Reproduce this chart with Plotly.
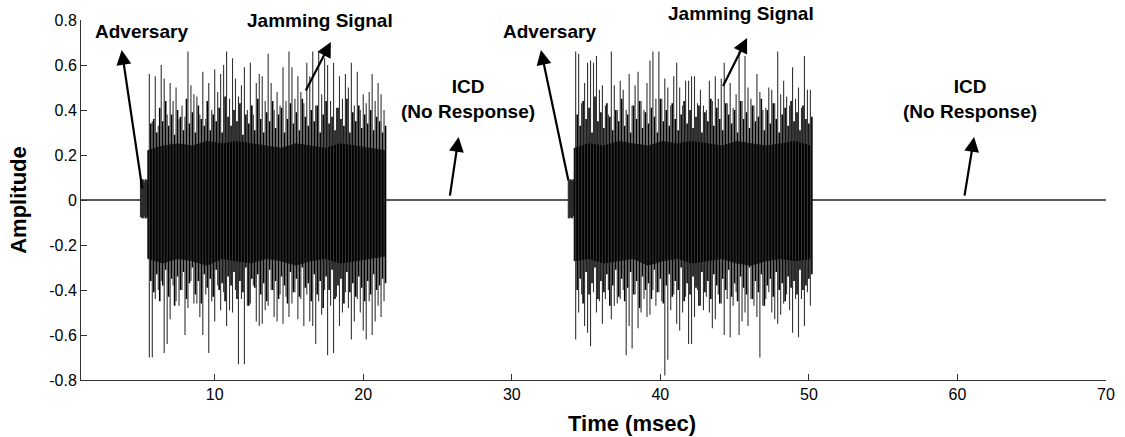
import numpy as np
import plotly.graph_objects as go

# ---------------- data ----------------
# jamming bursts: tall peak values sampled every 0.2 msec
burst1_start, burst2_start, spike_step = 5.6, 34.3, 0.2
burst1_upper = [0.56, 0.35, 0.55, 0.33, 0.60, 0.54, 0.38, 0.52, 0.44, 0.50,
                0.36, 0.42, 0.37, 0.66, 0.51, 0.47, 0.46, 0.38, 0.57, 0.36,
                0.52, 0.40, 0.58, 0.48, 0.56, 0.60, 0.66, 0.45, 0.63, 0.54,
                0.46, 0.51, 0.59, 0.40, 0.61, 0.38, 0.52, 0.56, 0.55, 0.44,
                0.65, 0.52, 0.40, 0.48, 0.42, 0.59, 0.44, 0.66, 0.59, 0.45,
                0.55, 0.48, 0.43, 0.61, 0.55, 0.66, 0.42, 0.66, 0.47, 0.63,
                0.60, 0.44, 0.61, 0.41, 0.55, 0.45, 0.56, 0.50, 0.61, 0.42,
                0.57, 0.40, 0.47, 0.43, 0.48, 0.56, 0.44, 0.52, 0.47, 0.40]
burst1_lower = [-0.70, -0.70, -0.44, -0.40, -0.36, -0.68, -0.64, -0.53, -0.38, -0.45,
                -0.47, -0.40, -0.60, -0.48, -0.36, -0.46, -0.46, -0.52, -0.60, -0.42,
                -0.68, -0.45, -0.54, -0.38, -0.49, -0.41, -0.56, -0.49, -0.50, -0.40,
                -0.73, -0.44, -0.73, -0.47, -0.46, -0.38, -0.54, -0.56, -0.55, -0.49,
                -0.47, -0.40, -0.52, -0.54, -0.42, -0.55, -0.43, -0.52, -0.46, -0.41,
                -0.53, -0.44, -0.56, -0.42, -0.54, -0.56, -0.64, -0.45, -0.51, -0.40,
                -0.69, -0.47, -0.68, -0.43, -0.56, -0.50, -0.41, -0.48, -0.62, -0.54,
                -0.44, -0.50, -0.58, -0.62, -0.45, -0.60, -0.54, -0.47, -0.52, -0.45]
burst2_upper = [0.66, 0.65, 0.43, 0.52, 0.61, 0.62, 0.61, 0.64, 0.49, 0.51,
                0.42, 0.38, 0.66, 0.51, 0.40, 0.53, 0.49, 0.40, 0.56, 0.42,
                0.51, 0.57, 0.44, 0.40, 0.52, 0.62, 0.66, 0.45, 0.66, 0.45,
                0.54, 0.50, 0.42, 0.55, 0.61, 0.50, 0.42, 0.53, 0.53, 0.55,
                0.55, 0.43, 0.49, 0.42, 0.40, 0.53, 0.44, 0.55, 0.45, 0.54,
                0.61, 0.43, 0.52, 0.41, 0.47, 0.66, 0.44, 0.64, 0.50, 0.45,
                0.42, 0.56, 0.48, 0.40, 0.41, 0.50, 0.49, 0.43, 0.66, 0.47,
                0.53, 0.46, 0.42, 0.59, 0.45, 0.50, 0.41, 0.64, 0.49, 0.49]
burst2_lower = [-0.62, -0.50, -0.42, -0.56, -0.59, -0.65, -0.41, -0.50, -0.45, -0.55,
                -0.44, -0.40, -0.53, -0.47, -0.46, -0.44, -0.40, -0.69, -0.56, -0.66,
                -0.42, -0.57, -0.50, -0.44, -0.52, -0.51, -0.40, -0.47, -0.41, -0.45,
                -0.78, -0.71, -0.49, -0.42, -0.55, -0.58, -0.50, -0.43, -0.64, -0.64,
                -0.52, -0.40, -0.47, -0.49, -0.43, -0.50, -0.57, -0.53, -0.42, -0.46,
                -0.60, -0.44, -0.61, -0.47, -0.41, -0.60, -0.54, -0.50, -0.56, -0.44,
                -0.47, -0.52, -0.70, -0.47, -0.44, -0.41, -0.50, -0.53, -0.55, -0.51,
                -0.46, -0.42, -0.49, -0.59, -0.44, -0.61, -0.44, -0.56, -0.41, -0.47]

# medium peaks between the tall ones (offset 0.1 msec)
mid_offset = 0.1
burst1_mid_upper = [0.34, 0.36, 0.30, 0.41, 0.35, 0.44, 0.33, 0.38, 0.29, 0.40,
                    0.37, 0.31, 0.45, 0.34, 0.39, 0.30, 0.42, 0.36, 0.33, 0.44,
                    0.31, 0.38, 0.35, 0.41, 0.30, 0.46, 0.37, 0.33, 0.40, 0.35,
                    0.43, 0.29, 0.38, 0.34, 0.42, 0.31, 0.45, 0.36, 0.30, 0.39,
                    0.35, 0.44, 0.32, 0.38, 0.41, 0.30, 0.36, 0.43, 0.34, 0.39,
                    0.31, 0.45, 0.37, 0.33, 0.40, 0.35, 0.42, 0.30, 0.38, 0.44,
                    0.34, 0.37, 0.31, 0.41, 0.36, 0.33, 0.45, 0.30, 0.39, 0.35,
                    0.42, 0.32, 0.38, 0.34, 0.40, 0.31, 0.37, 0.35, 0.30, 0.33]
burst1_mid_lower = [-0.36, -0.41, -0.33, -0.45, -0.38, -0.31, -0.43, -0.35, -0.47, -0.34,
                    -0.40, -0.32, -0.44, -0.37, -0.30, -0.42, -0.36, -0.46, -0.33, -0.39,
                    -0.35, -0.43, -0.31, -0.40, -0.37, -0.45, -0.34, -0.38, -0.32, -0.44,
                    -0.36, -0.41, -0.30, -0.47, -0.35, -0.39, -0.33, -0.42, -0.37, -0.45,
                    -0.31, -0.40, -0.36, -0.44, -0.34, -0.38, -0.46, -0.32, -0.41, -0.35,
                    -0.43, -0.30, -0.39, -0.37, -0.45, -0.33, -0.42, -0.36, -0.48, -0.34,
                    -0.40, -0.31, -0.44, -0.38, -0.35, -0.46, -0.32, -0.41, -0.37, -0.43,
                    -0.34, -0.39, -0.45, -0.36, -0.42, -0.33, -0.40, -0.38, -0.35, -0.37]
burst2_mid_upper = [0.38, 0.33, 0.44, 0.36, 0.41, 0.30, 0.46, 0.35, 0.39, 0.32,
                    0.43, 0.37, 0.31, 0.40, 0.35, 0.45, 0.33, 0.38, 0.30, 0.42,
                    0.36, 0.44, 0.32, 0.39, 0.34, 0.41, 0.37, 0.30, 0.45, 0.35,
                    0.40, 0.33, 0.43, 0.36, 0.31, 0.38, 0.44, 0.34, 0.40, 0.32,
                    0.37, 0.42, 0.30, 0.39, 0.35, 0.45, 0.33, 0.41, 0.36, 0.31,
                    0.43, 0.38, 0.34, 0.40, 0.30, 0.44, 0.36, 0.39, 0.32, 0.42,
                    0.35, 0.37, 0.45, 0.31, 0.40, 0.34, 0.43, 0.36, 0.30, 0.38,
                    0.41, 0.33, 0.44, 0.35, 0.39, 0.31, 0.42, 0.36, 0.34, 0.37]
burst2_mid_lower = [-0.40, -0.35, -0.46, -0.32, -0.42, -0.37, -0.30, -0.44, -0.36, -0.41,
                    -0.33, -0.47, -0.38, -0.31, -0.43, -0.35, -0.45, -0.39, -0.32, -0.42,
                    -0.36, -0.48, -0.34, -0.40, -0.37, -0.44, -0.31, -0.41, -0.35, -0.46,
                    -0.38, -0.33, -0.43, -0.36, -0.40, -0.30, -0.45, -0.37, -0.42, -0.34,
                    -0.39, -0.47, -0.32, -0.41, -0.36, -0.44, -0.33, -0.38, -0.46, -0.35,
                    -0.40, -0.31, -0.43, -0.37, -0.45, -0.34, -0.39, -0.42, -0.30, -0.44,
                    -0.36, -0.41, -0.33, -0.47, -0.38, -0.35, -0.43, -0.32, -0.40, -0.37,
                    -0.45, -0.34, -0.39, -0.36, -0.42, -0.31, -0.40, -0.38, -0.35, -0.33]

# dense core of each burst (envelope, 17 points per burst)
core1_range = (5.5, 21.45)
core1_upper = [0.22, 0.24, 0.25, 0.24, 0.26, 0.25, 0.26, 0.25, 0.24,
               0.23, 0.25, 0.24, 0.23, 0.25, 0.24, 0.23, 0.22]
core1_lower = [-0.26, -0.28, -0.26, -0.27, -0.29, -0.26, -0.27, -0.28, -0.26,
               -0.27, -0.29, -0.27, -0.26, -0.28, -0.27, -0.26, -0.25]
core2_range = (34.2, 50.1)
core2_upper = [0.23, 0.25, 0.24, 0.26, 0.25, 0.24, 0.26, 0.25, 0.26,
               0.25, 0.24, 0.26, 0.25, 0.24, 0.25, 0.26, 0.24]
core2_lower = [-0.27, -0.26, -0.28, -0.27, -0.26, -0.29, -0.27, -0.26, -0.28,
               -0.27, -0.26, -0.28, -0.29, -0.27, -0.26, -0.27, -0.26]

# adversary segments (short, low-level), sampled every 0.1 msec
adv1_start, adv2_start, adv_step = 5.0, 33.8, 0.1
adv1_upper = [0.085, 0.09, 0.08, 0.09, 0.085, 0.09]
adv1_lower = [-0.07, -0.075, -0.08, -0.07, -0.08, -0.075]
adv2_upper = [0.085, 0.09, 0.085, 0.09, 0.08]
adv2_lower = [-0.07, -0.08, -0.075, -0.08, -0.07]

# quiet segments (ICD, no response)
quiet_segments = [(1.0, 5.0), (21.45, 33.8), (50.1, 70.0)]
quiet_level = 0.0

x_ticks = [10, 20, 30, 40, 50, 60, 70]
y_ticks = [-0.8, -0.6, -0.4, -0.2, 0, 0.2, 0.4, 0.6, 0.8]
y_tick_text = ["-0.8", "-0.6", "-0.4", "-0.2", "0", "0.2", "0.4", "0.6", "0.8"]

# annotations: (label, text x, text y, arrow head x, head y, tail x, tail y)
labels = [
    ("<b>Adversary</b>", 5.07, 0.75, 3.74, 0.667, 5.14, 0.044),
    ("<b>Jamming Signal</b>", 17.08, 0.80, 17.82, 0.702, 16.08, 0.48),
    ("<b>ICD</b><br><b>(No Response)</b>", 27.06, 0.45, 26.42, 0.28, 25.82, 0.013),
    ("<b>Adversary</b>", 32.53, 0.75, 31.96, 0.667, 33.83, 0.08),
    ("<b>Jamming Signal</b>", 45.41, 0.827, 45.84, 0.72, 44.17, 0.50),
    ("<b>ICD</b><br><b>(No Response)</b>", 60.82, 0.45, 61.12, 0.28, 60.46, 0.013),
]

FONT = "Liberation Sans, Arial, Helvetica, sans-serif"
Y_RANGE = (-0.8, 0.8)
X_RANGE = (1, 70)

# ---------------- build figure ----------------
fig = go.Figure()


def spikes(start, step, upper, lower):
    xs, ys = [], []
    for i, (u, l) in enumerate(zip(upper, lower)):
        t = start + step * i
        xs += [t, t, None]
        ys += [l, u, None]
    return xs, ys


def band(ts, upper, lower):
    ts = list(ts)
    return ts + ts[::-1] + [ts[0]], list(upper) + list(lower)[::-1] + [upper[0]]


# quiet baseline
for a, b in quiet_segments:
    fig.add_trace(go.Scatter(x=[a, b], y=[quiet_level, quiet_level], mode="lines",
                             line=dict(color="#222222", width=1.6),
                             hoverinfo="skip", showlegend=False))

# adversary blocks
for start, up, lo in [(adv1_start, adv1_upper, adv1_lower), (adv2_start, adv2_upper, adv2_lower)]:
    ts = [start + adv_step * i for i in range(len(up))]
    bx, by = band(ts, up, lo)
    fig.add_trace(go.Scatter(x=bx, y=by, mode="lines", fill="toself",
                             fillcolor="#2b2b2b", line=dict(color="#2b2b2b", width=1, shape="hv"),
                             hoverinfo="skip", showlegend=False))

# dense cores
for rng, up, lo in [(core1_range, core1_upper, core1_lower), (core2_range, core2_upper, core2_lower)]:
    ts = np.linspace(rng[0], rng[1], len(up))
    bx, by = band(ts, up, lo)
    fig.add_trace(go.Scatter(x=bx, y=by, mode="lines", fill="toself",
                             fillcolor="#050505", line=dict(color="#050505", width=1),
                             hoverinfo="skip", showlegend=False))

# medium spikes
for start, up, lo in [(burst1_start + mid_offset, burst1_mid_upper, burst1_mid_lower),
                      (burst2_start + mid_offset, burst2_mid_upper, burst2_mid_lower)]:
    sx, sy = spikes(start, spike_step, up, lo)
    fig.add_trace(go.Scatter(x=sx, y=sy, mode="lines", connectgaps=False,
                             line=dict(color="#000000", width=1.6),
                             hoverinfo="skip", showlegend=False))

# tall spikes
for start, up, lo in [(burst1_start, burst1_upper, burst1_lower),
                      (burst2_start, burst2_upper, burst2_lower)]:
    sx, sy = spikes(start, spike_step, up, lo)
    fig.add_trace(go.Scatter(x=sx, y=sy, mode="lines", connectgaps=False,
                             line=dict(color="#333333", width=1.1),
                             hoverinfo="skip", showlegend=False))


def to_paper_y(v):
    return (v - Y_RANGE[0]) / (Y_RANGE[1] - Y_RANGE[0])


def to_paper_x(v):
    return (v - X_RANGE[0]) / (X_RANGE[1] - X_RANGE[0])


# annotations
for text, tx, ty, hx, hy, ax, ay in labels:
    fig.add_annotation(x=to_paper_x(tx), y=to_paper_y(ty), xref="paper", yref="paper",
                       xanchor="center", yanchor="middle",
                       text=text, showarrow=False,
                       font=dict(family=FONT, size=19, color="black"))
    fig.add_annotation(x=hx, y=hy, ax=ax, ay=ay, xref="x", yref="y",
                       axref="x", ayref="y", text="", showarrow=True,
                       arrowhead=2, arrowsize=1.35, arrowwidth=2.2, arrowcolor="black",
                       standoff=0, startstandoff=0)

# x axis title placed like the original (slightly right of centre)
fig.add_annotation(x=0.5377, y=-(423 - 380) / 360.0, xref="paper", yref="paper",
                   xanchor="center", yanchor="middle", text="<b>Time (msec)</b>",
                   showarrow=False, font=dict(family=FONT, size=22, color="black"))

fig.update_layout(
    width=1125, height=437,
    margin=dict(l=81, r=10, t=20, b=57),
    paper_bgcolor="white", plot_bgcolor="white",
    font=dict(family=FONT, size=16, color="black"),
    showlegend=False,
    xaxis=dict(range=list(X_RANGE), tickvals=x_ticks, ticks="inside", ticklen=6,
               tickcolor="#333", showline=True, linecolor="#333", linewidth=1,
               showgrid=False, zeroline=False, mirror=False,
               tickfont=dict(family=FONT, size=16, color="black")),
    yaxis=dict(range=list(Y_RANGE), tickvals=y_ticks, ticktext=y_tick_text,
               ticks="inside", ticklen=6, tickcolor="#333", showline=True,
               linecolor="#333", linewidth=1, showgrid=False, zeroline=False,
               mirror=False, tickfont=dict(family=FONT, size=16, color="black"),
               title=dict(text="<b>Amplitude</b>", standoff=16,
                          font=dict(family=FONT, size=22, color="black"))),
)

fig.write_html("out.html")
